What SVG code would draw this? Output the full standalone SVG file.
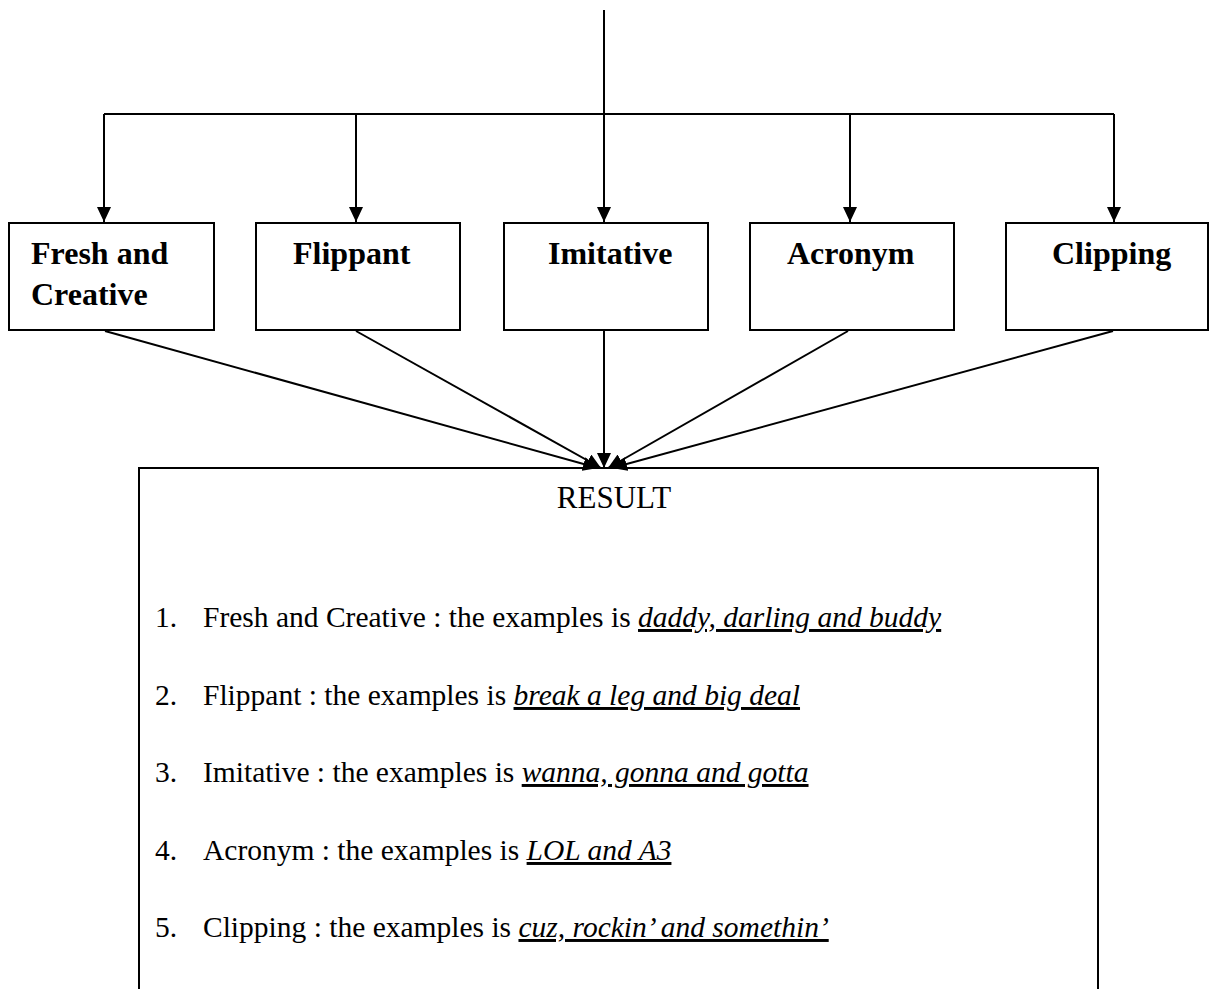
<svg xmlns="http://www.w3.org/2000/svg" width="1210" height="989" viewBox="0 0 1210 989">
<defs>
<style>
.ln{stroke:#000;stroke-width:2;fill:none}
.box{stroke:#000;stroke-width:2;fill:#fff}
.lbl{font-family:"Liberation Serif","Times New Roman",serif;font-weight:bold;font-size:32px;fill:#000}
.item{font-family:"Liberation Serif","Times New Roman",serif;font-size:29.5px;fill:#000}
.ex{font-style:italic;text-decoration:underline;text-decoration-skip-ink:none;text-decoration-thickness:2px}
</style>
<marker id="ah2" viewBox="0 0 15 14" refX="15" refY="7" markerWidth="15" markerHeight="14" markerUnits="userSpaceOnUse" orient="auto">
<path d="M0,0 L15,7 L0,14 Z" fill="#000"/>
</marker>
</defs>
<g id="connectors">
<line class="ln" x1="604" y1="10" x2="604" y2="114"/>
<line class="ln" x1="104" y1="114" x2="1114" y2="114"/>
<line class="ln" x1="104" y1="114" x2="104" y2="222" marker-end="url(#ah2)"/>
<line class="ln" x1="356" y1="114" x2="356" y2="222" marker-end="url(#ah2)"/>
<line class="ln" x1="604" y1="114" x2="604" y2="222" marker-end="url(#ah2)"/>
<line class="ln" x1="850" y1="114" x2="850" y2="222" marker-end="url(#ah2)"/>
<line class="ln" x1="1114" y1="114" x2="1114" y2="222" marker-end="url(#ah2)"/>
</g>
<g id="node-fresh">
<rect class="box" x="9" y="223" width="205" height="107"/>
<text class="lbl" x="31" y="264">Fresh and</text>
<text class="lbl" x="31" y="305">Creative</text>
</g>
<g id="node-flippant">
<rect class="box" x="256" y="223" width="204" height="107"/>
<text class="lbl" x="293" y="264">Flippant</text>
</g>
<g id="node-imitative">
<rect class="box" x="504" y="223" width="204" height="107"/>
<text class="lbl" x="548" y="264">Imitative</text>
</g>
<g id="node-acronym">
<rect class="box" x="750" y="223" width="204" height="107"/>
<text class="lbl" x="787" y="264">Acronym</text>
</g>
<g id="node-clipping">
<rect class="box" x="1006" y="223" width="202" height="107"/>
<text class="lbl" x="1052" y="264">Clipping</text>
</g>
<g id="node-result">
<rect class="box" x="139" y="468" width="959" height="540"/>
<text x="614" y="508" text-anchor="middle" font-family="Liberation Serif, Times New Roman, serif" font-size="31">RESULT</text>
<text class="item" x="155" y="627">1.</text>
<text class="item" x="203" y="627">Fresh and Creative : the examples is <tspan class="ex">daddy, darling and buddy</tspan></text>
<text class="item" x="155" y="705">2.</text>
<text class="item" x="203" y="705">Flippant : the examples is <tspan class="ex">break a leg and big deal</tspan></text>
<text class="item" x="155" y="782">3.</text>
<text class="item" x="203" y="782">Imitative : the examples is <tspan class="ex">wanna, gonna and gotta</tspan></text>
<text class="item" x="155" y="860">4.</text>
<text class="item" x="203" y="860">Acronym : the examples is <tspan class="ex">LOL and A3</tspan></text>
<text class="item" x="155" y="937">5.</text>
<text class="item" x="203" y="937">Clipping : the examples is <tspan class="ex">cuz, rockin’ and somethin’</tspan></text>
</g>
<g id="connectors-result">
<line class="ln" x1="105" y1="331" x2="598" y2="468" marker-end="url(#ah2)"/>
<line class="ln" x1="356" y1="331" x2="601" y2="468" marker-end="url(#ah2)"/>
<line class="ln" x1="604" y1="331" x2="604" y2="468" marker-end="url(#ah2)"/>
<line class="ln" x1="848" y1="331" x2="608" y2="468" marker-end="url(#ah2)"/>
<line class="ln" x1="1113" y1="331" x2="612" y2="468" marker-end="url(#ah2)"/>
</g>
</svg>
